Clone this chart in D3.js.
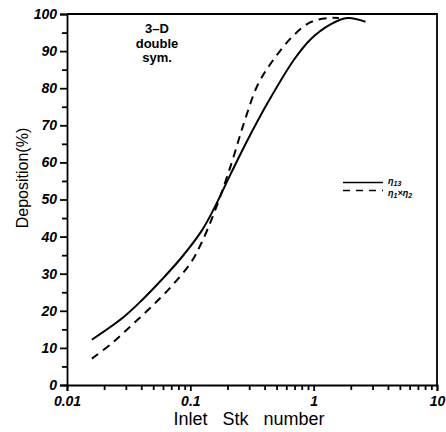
<!DOCTYPE html>
<html>
<head>
<meta charset="utf-8">
<script src="https://cdn.jsdelivr.net/npm/d3@7"></script>
<style>
  body { margin: 0; background: #fff; }
  svg { font-family: "Liberation Sans", Arial, sans-serif; }
  .axis path, .axis line { stroke: #000; stroke-width: 1.8; }
  .axis text { font-size: 14px; font-weight: bold; font-style: italic; fill: #000; }
</style>
</head>
<body>
<svg width="446" height="432"></svg>
<script>
// eta_13 (solid)
const stkSolid = [0.0159, 0.0278, 0.0403, 0.0583, 0.0845, 0.1227, 0.156, 0.214, 0.294, 0.426, 0.69, 0.946, 1.37, 1.88, 2.63];
const depSolid = [12.2, 17.9, 22.8, 28.3, 34.3, 41.4, 47.6, 57.1, 66.3, 76.2, 87.6, 93.2, 97.2, 98.9, 97.9];
// eta_1 x eta_2 (dashed)
const stkDashed = [0.0159, 0.023, 0.0334, 0.0484, 0.0703, 0.102, 0.1227, 0.156, 0.214, 0.272, 0.353, 0.475, 0.69, 0.946, 1.3, 1.6];
const depDashed = [7.1, 11.2, 16.1, 21.1, 26.6, 33.2, 38.2, 46.4, 59.4, 70.6, 81.0, 87.8, 94.3, 97.8, 98.9, 98.9];

const yMajor = [0, 10, 20, 30, 40, 50, 60, 70, 80, 90, 100];
const xMajor = [0.01, 0.1, 1, 10];
const xMajorLabels = ["0.01", "0.1", "1", "10"];
const annotation = ["3\u2013D", "double", "sym."];

const svg = d3.select("svg");
const m = { left: 67, right: 437, top: 14, bottom: 385 };

const x = d3.scaleLog().domain([0.01, 10]).range([m.left, m.right]);
const y = d3.scaleLinear().domain([0, 100]).range([m.bottom, m.top]);

// minor ticks
const xMinor = [];
[0.01, 0.1, 1].forEach(d => { for (let k = 2; k <= 9; k++) xMinor.push(d * k); });
const yMinor = d3.range(5, 100, 10);

svg.append("g").attr("class", "axis")
  .attr("transform", `translate(0,${m.bottom})`)
  .call(d3.axisBottom(x).tickValues(xMinor).tickSize(5).tickFormat(""))
  .call(g => g.select(".domain").remove());
svg.append("g").attr("class", "axis")
  .attr("transform", `translate(0,${m.bottom})`)
  .call(d3.axisBottom(x).tickValues(xMajor).tickSize(6).tickPadding(5)
    .tickFormat((d, i) => xMajorLabels[i]));

svg.append("g").attr("class", "axis")
  .attr("transform", `translate(${m.left},0)`)
  .call(d3.axisLeft(y).tickValues(yMinor).tickSize(5).tickFormat(""))
  .call(g => g.select(".domain").remove());
svg.append("g").attr("class", "axis")
  .attr("transform", `translate(${m.left},0)`)
  .call(d3.axisLeft(y).tickValues(yMajor).tickSize(7).tickPadding(3));

// frame top and right
svg.append("path")
  .attr("d", `M${m.left},${m.top}H${m.right}V${m.bottom}`)
  .attr("fill", "none").attr("stroke", "#000").attr("stroke-width", 1.8);

const line = d3.line()
  .x(d => x(d[0])).y(d => y(d[1]))
  .curve(d3.curveCatmullRom.alpha(0.5));

svg.append("path")
  .datum(stkSolid.map((s, i) => [s, depSolid[i]]))
  .attr("d", line)
  .attr("fill", "none").attr("stroke", "#000").attr("stroke-width", 2);

svg.append("path")
  .datum(stkDashed.map((s, i) => [s, depDashed[i]]))
  .attr("d", line)
  .attr("fill", "none").attr("stroke", "#000").attr("stroke-width", 2)
  .attr("stroke-dasharray", "8,6");

// annotation
svg.append("text")
  .attr("x", 157).attr("y", 33)
  .attr("text-anchor", "middle")
  .style("font-size", "13px").style("font-weight", "bold")
  .selectAll("tspan").data(annotation).join("tspan")
  .attr("x", 157).attr("dy", (d, i) => i ? 14.5 : 0)
  .text(d => d);

// legend
const legend = svg.append("g");
legend.append("line").attr("x1", 343).attr("x2", 383).attr("y1", 182.5).attr("y2", 182.5)
  .attr("stroke", "#000").attr("stroke-width", 1.6);
legend.append("line").attr("x1", 343).attr("x2", 383).attr("y1", 190.5).attr("y2", 190.5)
  .attr("stroke", "#000").attr("stroke-width", 1.6).attr("stroke-dasharray", "7,6");
const lt = legend.append("text").attr("x", 388).attr("y", 184)
  .style("font-size", "9px").style("font-style", "italic").style("font-weight", "bold");
lt.append("tspan").text("\u03b7");
lt.append("tspan").attr("dy", 1.5).style("font-size", "7px").text("13");
const lt2 = legend.append("text").attr("x", 388).attr("y", 196)
  .style("font-size", "9px").style("font-style", "italic").style("font-weight", "bold");
lt2.append("tspan").text("\u03b7");
lt2.append("tspan").attr("dy", 1.5).style("font-size", "7px").text("1");
lt2.append("tspan").attr("dy", -1.5).text("\u00d7\u03b7");
lt2.append("tspan").attr("dy", 1.5).style("font-size", "7px").text("2");

// axis titles
svg.append("text")
  .attr("x", 249).attr("y", 425)
  .attr("text-anchor", "middle")
  .style("font-size", "18px").style("word-spacing", "10px")
  .text("Inlet Stk number");

svg.append("text")
  .attr("transform", "translate(28,178) rotate(-90)")
  .attr("text-anchor", "middle")
  .style("font-size", "16px")
  .text("Deposition(%)");
</script>
</body>
</html>
